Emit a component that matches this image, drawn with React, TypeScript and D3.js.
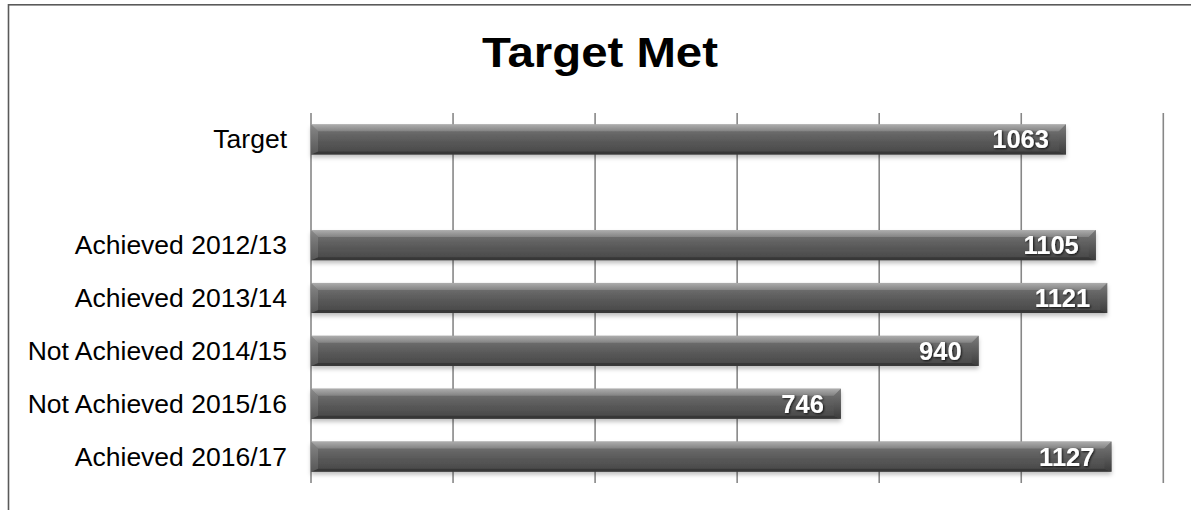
import React from "react";
import * as d3 from "d3";

const categories: string[] = [
  "Target",
  "",
  "Achieved 2012/13",
  "Achieved 2013/14",
  "Not Achieved 2014/15",
  "Not Achieved 2015/16",
  "Achieved 2016/17",
];
const values: (number | null)[] = [1063, null, 1105, 1121, 940, 746, 1127];
const xTicks: number[] = [0, 200, 400, 600, 800, 1000, 1200];
const title = "Target Met";

const W = 1191;
const H = 510;
const plot = { left: 311, right: 1163.3, top: 113, bottom: 483 };

export default function App() {
  const x = d3.scaleLinear().domain([0, 1200]).range([plot.left, plot.right]);
  const y = d3
    .scaleBand<number>()
    .domain(d3.range(categories.length))
    .range([plot.top, plot.bottom])
    .paddingInner(0.43)
    .paddingOuter(0.215);
  const bh = y.bandwidth();
  const bev = 7;
  const font = "Arial, 'Liberation Sans', sans-serif";

  return (
    <svg
      width={W}
      height={H}
      style={{ position: "absolute", left: 0, top: 0, background: "#fff" }}
    >
      <defs>
        <linearGradient id="barBody" x1="0" y1="0" x2="0" y2="1">
          <stop offset="0" stopColor="#8c8c8c" />
          <stop offset="0.25" stopColor="#6a6a6a" />
          <stop offset="0.6" stopColor="#575757" />
          <stop offset="1" stopColor="#474747" />
        </linearGradient>
        <linearGradient id="barTop" x1="0" y1="0" x2="0" y2="1">
          <stop offset="0" stopColor="#b8b8b8" />
          <stop offset="1" stopColor="#8a8a8a" />
        </linearGradient>
        <linearGradient id="barLeft" x1="0" y1="0" x2="0" y2="1">
          <stop offset="0" stopColor="#8a8a8a" />
          <stop offset="1" stopColor="#5a5a5a" />
        </linearGradient>
        <linearGradient id="barRight" x1="0" y1="0" x2="0" y2="1">
          <stop offset="0" stopColor="#7a7a7a" />
          <stop offset="1" stopColor="#3c3c3c" />
        </linearGradient>
        <filter id="shadow" x="-5%" y="-30%" width="110%" height="170%">
          <feDropShadow dx="0" dy="3" stdDeviation="2.2" floodColor="#000" floodOpacity="0.25" />
        </filter>
        <filter id="txtShadow" x="-20%" y="-30%" width="140%" height="170%">
          <feDropShadow dx="1" dy="1" stdDeviation="0.8" floodColor="#000" floodOpacity="0.8" />
        </filter>
      </defs>

      <rect x={8.5} y={4.8} width={1300} height={600} fill="#fff" stroke="#5a5a5a" strokeWidth={1.6} />

      <text
        x={600}
        y={66.5}
        textAnchor="middle"
        fontFamily={font}
        fontWeight="bold"
        fontSize={42}
        textLength={236}
        lengthAdjust="spacingAndGlyphs"
        fill="#000"
      >
        {title}
      </text>

      {xTicks.map((t) => (
        <line
          key={t}
          x1={x(t)}
          x2={x(t)}
          y1={plot.top}
          y2={plot.bottom}
          stroke="#878787"
          strokeWidth={1.6}
        />
      ))}

      {categories.map((c, i) => (
        <text
          key={"l" + i}
          x={plot.left - 24}
          y={(y(i) as number) + bh / 2 + 9}
          textAnchor="end"
          fontFamily={font}
          fontSize={26.5}
          fill="#000"
        >
          {c}
        </text>
      ))}

      {values.map((v, i) => {
        if (v == null) return null;
        const x0 = x(0);
        const x1 = x(v);
        const y0 = y(i) as number;
        const y1 = y0 + bh;
        return (
          <g key={"b" + i}>
            <g filter="url(#shadow)">
              <rect x={x0} y={y0} width={x1 - x0} height={bh} fill="url(#barBody)" />
            </g>
            <polygon
              points={`${x0},${y0} ${x1},${y0} ${x1 - bev},${y0 + bev} ${x0 + bev},${y0 + bev}`}
              fill="url(#barTop)"
              opacity={0.75}
            />
            <polygon
              points={`${x0},${y1} ${x1},${y1} ${x1 - bev},${y1 - 3} ${x0 + bev},${y1 - 3}`}
              fill="#333"
              opacity={0.8}
            />
            <polygon
              points={`${x0},${y0} ${x0 + bev},${y0 + bev} ${x0 + bev},${y1 - 3} ${x0},${y1}`}
              fill="url(#barLeft)"
              opacity={0.85}
            />
            <polygon
              points={`${x1},${y0} ${x1 - bev},${y0 + bev} ${x1 - bev},${y1 - 3} ${x1},${y1}`}
              fill="url(#barRight)"
            />
            <text
              x={x1 - 17}
              y={y0 + bh / 2 + 9}
              textAnchor="end"
              fontFamily={font}
              fontWeight="bold"
              fontSize={25.5}
              fill="#fff"
              filter="url(#txtShadow)"
            >
              {v}
            </text>
          </g>
        );
      })}
    </svg>
  );
}
